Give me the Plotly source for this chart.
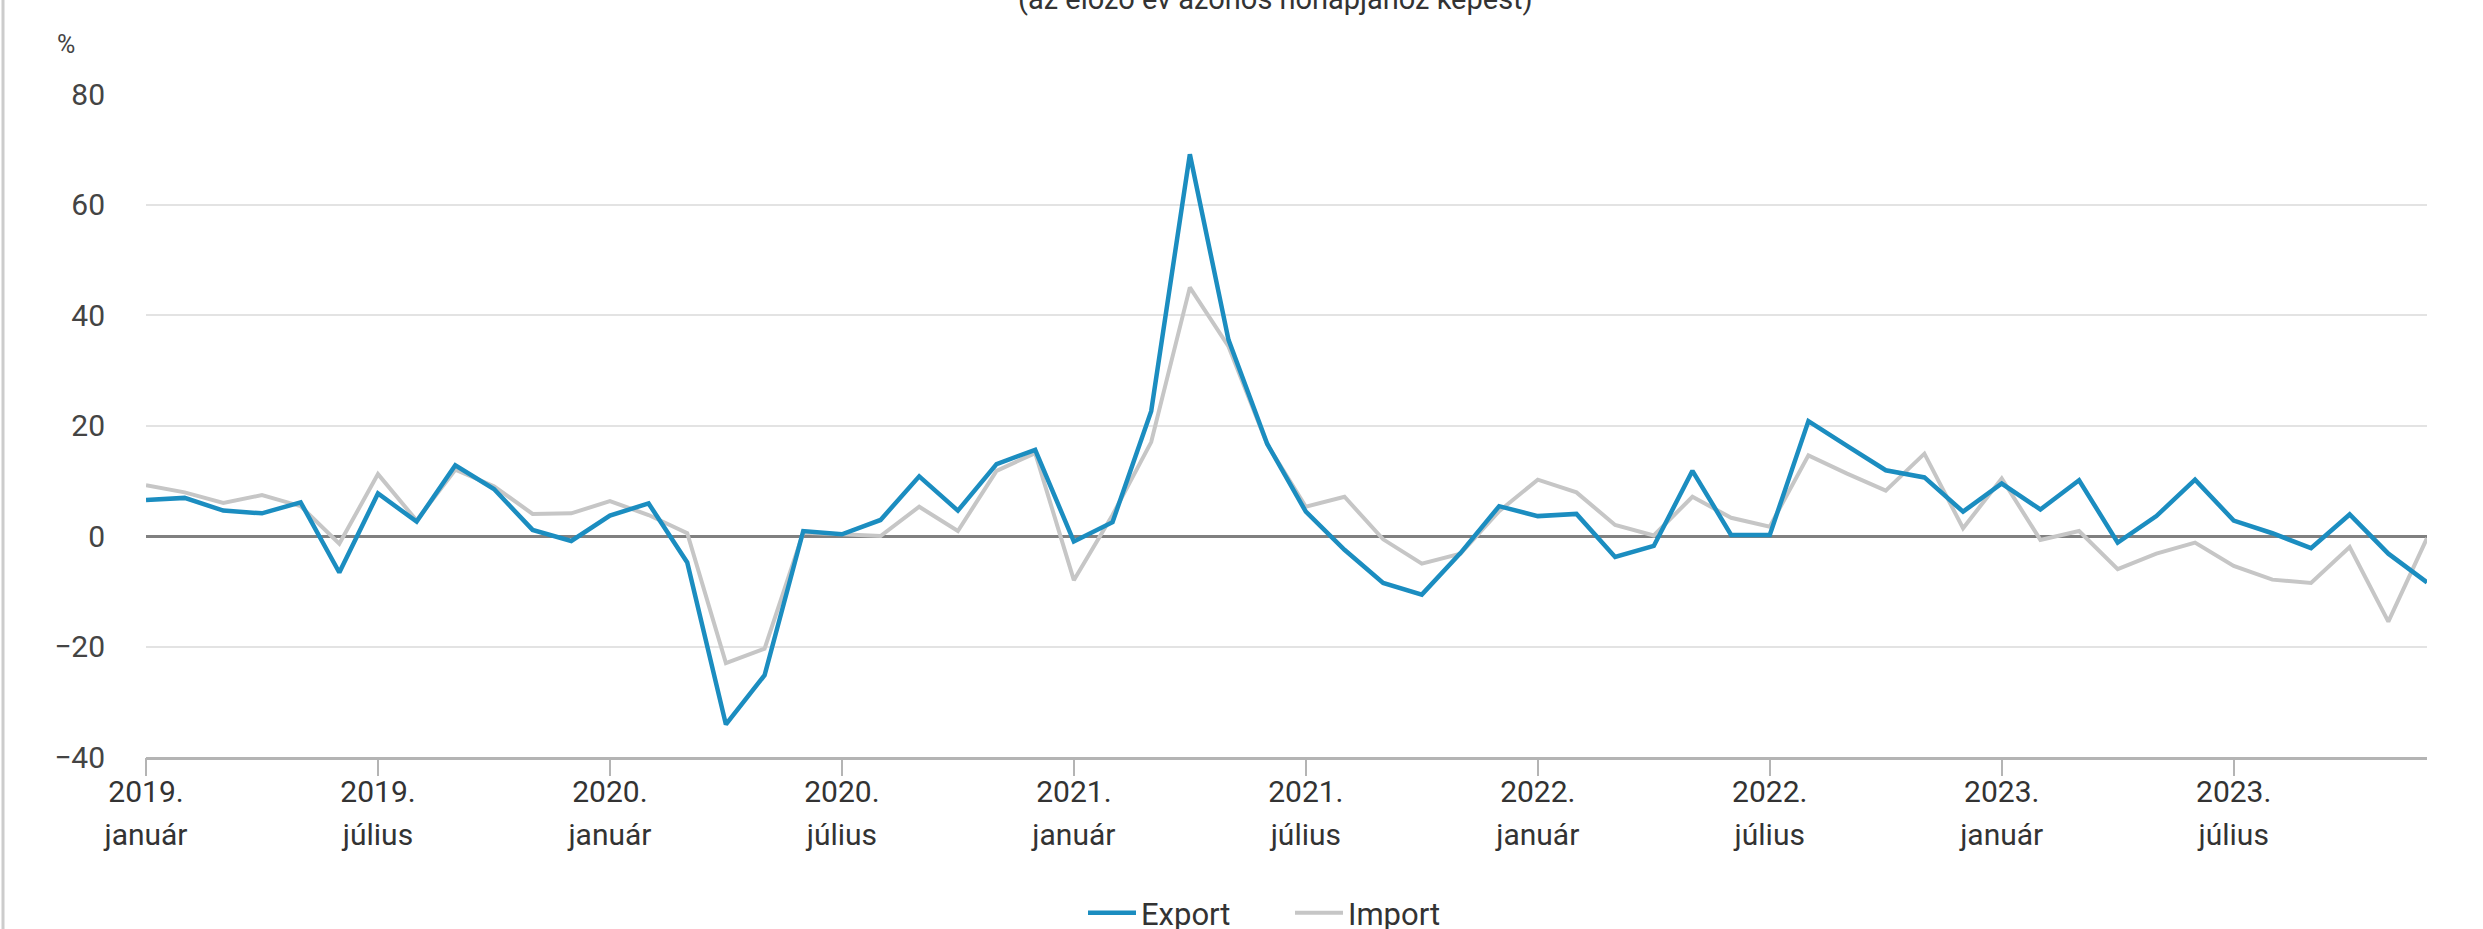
import plotly.graph_objects as go

years = [2019, 2020, 2021, 2022, 2023]
month_names = ["január", "február", "március", "április", "május", "június",
               "július", "augusztus", "szeptember", "október", "november", "december"]
categories = [f"{y}. {m}" for y in years for m in month_names]

export_vals = [6.5, 6.9, 4.6, 4.1, 6.1, -6.6, 7.7, 2.6, 12.8, 8.5, 1.1, -0.9,
               3.7, 5.9, -4.8, -34.1, -25.2, 0.9, 0.3, 2.9, 10.8, 4.6, 13.0, 15.6,
               -1.0, 2.5, 22.6, 69.1, 35.5, 16.7, 4.4, -2.5, -8.5, -10.6, -3.1, 5.4,
               3.6, 4.0, -3.8, -1.8, 11.8, 0.2, 0.2, 20.8, 16.3, 11.9, 10.6, 4.4,
               9.5, 4.8, 10.1, -1.2, 3.6, 10.2, 2.8, 0.5, -2.2, 3.9, -3.2, -8.4]

import_vals = [9.2, 7.9, 6.0, 7.4, 5.4, -1.4, 11.2, 2.8, 12.0, 9.0, 4.0, 4.1,
               6.3, 3.8, 0.5, -23.0, -20.4, 0.6, 0.3, 0.0, 5.3, 0.9, 11.8, 15.0,
               -8.0, 3.8, 17.0, 45.0, 34.3, 16.6, 5.3, 7.1, -0.6, -5.0, -3.2, 4.5,
               10.2, 7.9, 2.0, 0.1, 7.1, 3.3, 1.7, 14.6, 11.3, 8.2, 14.9, 1.4,
               10.4, -0.7, 0.9, -6.0, -3.2, -1.2, -5.4, -7.9, -8.5, -2.0, -15.5, -0.4]

tick_vals = ["2019. január", "2019. július", "2020. január", "2020. július",
             "2021. január", "2021. július", "2022. január", "2022. július",
             "2023. január", "2023. július"]
tick_years = ["2019.", "2019.", "2020.", "2020.", "2021.",
              "2021.", "2022.", "2022.", "2023.", "2023."]
tick_months = ["január", "július", "január", "július", "január",
               "július", "január", "július", "január", "július"]

y_ticks = [-40, -20, 0, 20, 40, 60, 80]
y_ticktext = ["−40", "−20", "0", "20", "40", "60", "80"]

FONT = "Roboto"
W, H = 2483, 929
ML, MR, MT, MB = 146, 56, 94, 172
PW, PH = W - ML - MR, H - MT - MB

def px_to_paper_x(px):
    return (px - ML) / PW

def px_to_paper_y(py):
    return (H - MB - py) / PH

fig = go.Figure()
fig.add_trace(go.Scatter(x=categories, y=import_vals, name="Import", mode="lines",
                         line=dict(color="#c6c6c6", width=4),
                         xaxis="x", yaxis="y"))
fig.add_trace(go.Scatter(x=categories, y=export_vals, name="Export", mode="lines",
                         line=dict(color="#1b8dc0", width=4.5),
                         xaxis="x2", yaxis="y"))

common_x = dict(type="category", categoryorder="array", categoryarray=categories,
                range=[0, len(categories) - 1], tickmode="array", tickvals=tick_vals,
                showgrid=False, zeroline=False, automargin=False)

fig.update_layout(
    width=W, height=H,
    margin=dict(l=ML, r=MR, t=MT, b=MB, pad=0, autoexpand=False),
    paper_bgcolor="white", plot_bgcolor="white",
    font=dict(family=FONT, size=30, color="#333333"),
    showlegend=True,
    legend=dict(orientation="h", xref="container", yref="container",
                x=1083 / W, xanchor="left",
                y=1 - 913 / H, yanchor="middle",
                traceorder="reversed", itemwidth=48,
                entrywidth=144, entrywidthmode="pixels",
                font=dict(family=FONT, size=31, color="#333333")),
    xaxis=dict(**common_x, ticktext=tick_years,
               showline=True, linecolor="#b4b4b4", linewidth=3,
               ticks="", ticklabelstandoff=6,
               tickfont=dict(family=FONT, size=30, color="#333333")),
    xaxis2=dict(**common_x, ticktext=tick_months, overlaying="x", anchor="y", side="bottom",
                showline=False, ticks="outside", ticklen=18, tickwidth=1.5, tickcolor="#b4b4b4",
                ticklabelstandoff=33,
                tickfont=dict(family=FONT, size=30, color="#333333")),
    yaxis=dict(range=[-40, 80], tickmode="array", tickvals=y_ticks, ticktext=y_ticktext,
               showgrid=True, gridcolor="#e3e3e3", gridwidth=2,
               zeroline=True, zerolinecolor="#808080", zerolinewidth=3,
               showline=False, ticks="", ticklabelstandoff=40, automargin=False,
               tickfont=dict(family=FONT, size=30, color="#444444")),
)

fig.add_annotation(text="%", xref="paper", yref="paper",
                   x=px_to_paper_x(66), y=px_to_paper_y(44),
                   xanchor="center", yanchor="middle", showarrow=False,
                   font=dict(family=FONT, size=25, color="#444444"))

fig.add_annotation(text="(az előző év azonos hónapjához képest)", xref="paper", yref="paper",
                   x=px_to_paper_x(1275), y=px_to_paper_y(18),
                   xanchor="center", yanchor="bottom", showarrow=False,
                   font=dict(family=FONT, size=29, color="#333333"))

fig.add_shape(type="line", xref="paper", yref="paper",
              x0=px_to_paper_x(3), x1=px_to_paper_x(3),
              y0=px_to_paper_y(0), y1=px_to_paper_y(H),
              line=dict(color="#cccccc", width=3))

fig.write_html("out.html",
               config={"displayModeBar": False},
               post_script="document.body.style.margin='0px';document.body.style.padding='0px';")
